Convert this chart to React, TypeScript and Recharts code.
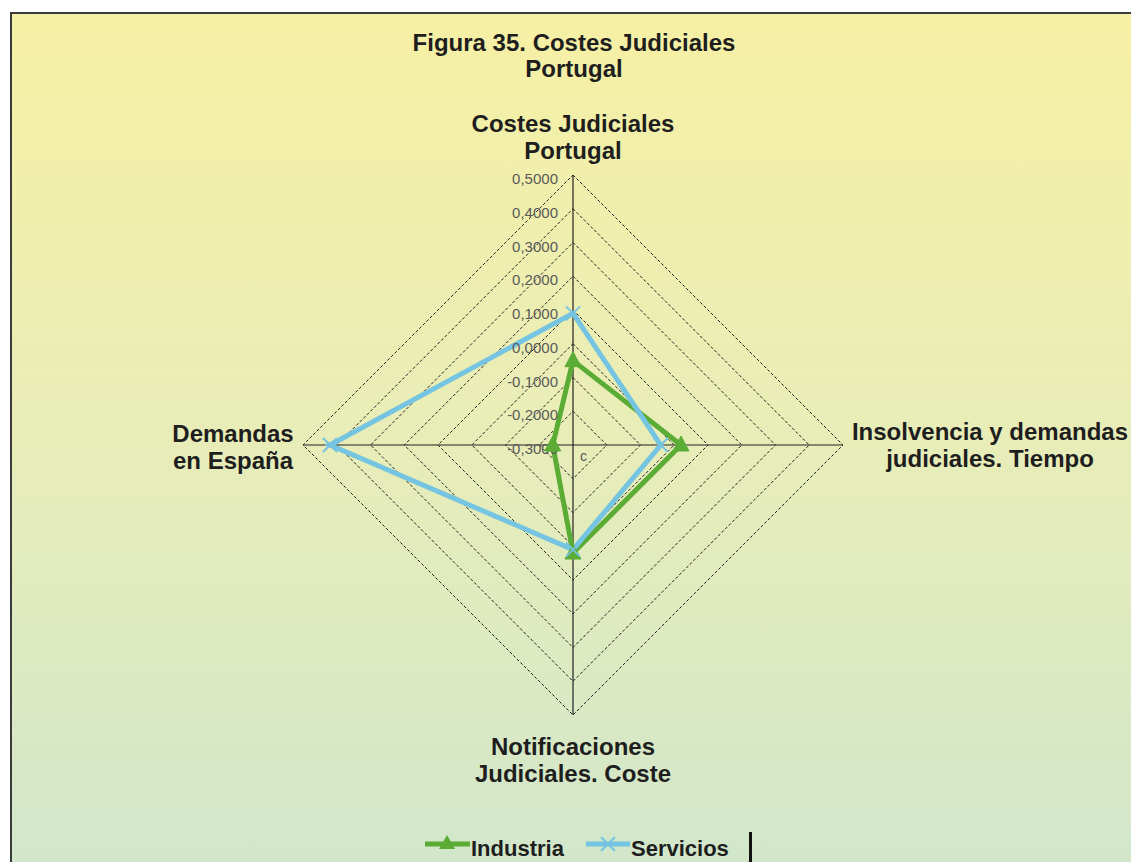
import React from "react";
import { RadarChart, Radar, PolarGrid, PolarAngleAxis, PolarRadiusAxis, Legend } from "recharts";

const categories = [
  "Costes Judiciales\nPortugal",
  "Insolvencia y demandas\njudiciales. Tiempo",
  "Notificaciones\nJudiciales. Coste",
  "Demandas\nen España",
];
const industria = [-0.05, 0.02, 0.02, -0.24];
const servicios = [0.09, -0.04, 0.01, 0.42];

const GREEN = "#5aac34";
const BLUE = "#74c4e2";
const FONT = "'Liberation Sans', Arial, sans-serif";

const data = categories.map((c, i) => ({ cat: c, industria: industria[i], servicios: servicios[i] }));

// label offsets from the tick point, per axis
const labelPos: Record<number, { dx: number; dy: number }> = {
  0: { dx: 0, dy: -35 },
  1: { dx: 139, dy: -5 },
  2: { dx: 0, dy: 32 },
  3: { dx: -62, dy: -3 },
};

function AngleTick(props: any) {
  const { x, y, payload, index } = props;
  const pos = labelPos[index] ?? { dx: 0, dy: 0 };
  const lines = String(payload.value).split("\n");
  return (
    <text x={x + pos.dx} y={y + pos.dy} textAnchor="middle" fontFamily={FONT} fontWeight="bold" fontSize={24} fill="#1e1e1e">
      {lines.map((l, i) => (
        <tspan key={i} x={x + pos.dx} dy={i === 0 ? 0 : 27}>
          {l}
        </tspan>
      ))}
    </text>
  );
}

function RadiusTick(props: any) {
  const { x, y, payload } = props;
  const label = Number(payload.value).toFixed(4).replace(".", ",").replace("-0,0000", "0,0000");
  return (
    <text x={x - 15} y={y + 9} textAnchor="end" fontFamily={FONT} fontSize={15} fill="#5a5a5a">
      {label}
    </text>
  );
}

function Triangle(props: any) {
  const { cx, cy } = props;
  if (cx == null || cy == null) return <g />;
  return <path d={`M${cx},${cy - 9} L${cx + 8},${cy + 6} L${cx - 8},${cy + 6} Z`} fill={GREEN} stroke={GREEN} strokeWidth={1} />;
}

function Cross(props: any) {
  const { cx, cy } = props;
  if (cx == null || cy == null) return <g />;
  return (
    <path d={`M${cx - 7},${cy - 7} L${cx + 7},${cy + 7} M${cx - 7},${cy + 7} L${cx + 7},${cy - 7}`} stroke={BLUE} strokeWidth={2} fill="none" />
  );
}

function LegendContent() {
  return (
    <svg width={340} height={30} style={{ overflow: "visible" }}>
      <line x1={5} y1={14} x2={50} y2={14} stroke={GREEN} strokeWidth={5} />
      <path d="M27,5 L35,19 L19,19 Z" fill={GREEN} />
      <text x={51} y={26} fontFamily={FONT} fontWeight="bold" fontSize={22} fill="#1e1e1e">Industria</text>
      <line x1={166} y1={14} x2={210} y2={14} stroke={BLUE} strokeWidth={5} />
      <path d="M181,7 L195,21 M181,21 L195,7" stroke={BLUE} strokeWidth={2} />
      <text x={211} y={26} fontFamily={FONT} fontWeight="bold" fontSize={22} fill="#1e1e1e">Servicios</text>
    </svg>
  );
}

export default function App() {
  return (
    <div style={{ position: "absolute", left: 0, top: 0, width: 1131, height: 862, background: "#fff", overflow: "hidden" }}>
      <div
        style={{
          position: "absolute",
          left: 10,
          top: 12,
          width: 1131,
          height: 862,
          borderLeft: "2px solid #3a3a3a",
          borderTop: "2px solid #3a3a3a",
          background: "linear-gradient(to bottom, #f6f0a4 0%, #e8edb8 50%, #d1e6cb 100%)",
        }}
      />
      <div
        style={{
          position: "absolute",
          left: 0,
          top: 30,
          width: 1148,
          textAlign: "center",
          fontFamily: FONT,
          fontWeight: "bold",
          fontSize: 24,
          lineHeight: "26px",
          color: "#1e1e1e",
        }}
      >
        Figura 35. Costes Judiciales
        <br />
        Portugal
      </div>
      <div style={{ position: "absolute", left: 580, top: 448, fontFamily: FONT, fontSize: 14, color: "#555" }}>c</div>
      <div style={{ position: "absolute", left: 749, top: 832, width: 3, height: 30, background: "#111" }} />
      <div style={{ position: "absolute", left: 0, top: 0 }}>
        <RadarChart width={1131} height={862} data={data} cx={573} cy={445} outerRadius={270} startAngle={90} endAngle={-270}>
          <PolarGrid gridType="polygon" radialLines={false} stroke="#222" strokeWidth={1} strokeDasharray="3 2" />
          <PolarGrid gridType="polygon" polarRadius={[0]} stroke="#222" strokeWidth={1.2} />
          <PolarAngleAxis dataKey="cat" tick={<AngleTick />} tickLine={false} axisLine={false} />
          <PolarRadiusAxis
            angle={90}
            type="number"
            domain={[-0.3, 0.5]}
            allowDecimals
            allowDataOverflow
            tickCount={9}
            tick={<RadiusTick />}
            tickLine={false}
            axisLine={false}
          />
          <Radar
            name="Industria"
            dataKey="industria"
            stroke={GREEN}
            strokeWidth={5}
            fill="none"
            fillOpacity={0}
            dot={<Triangle />}
            isAnimationActive={false}
          />
          <Radar
            name="Servicios"
            dataKey="servicios"
            stroke={BLUE}
            strokeWidth={5}
            fill="none"
            fillOpacity={0}
            dot={<Cross />}
            isAnimationActive={false}
          />
          <Legend content={<LegendContent />} wrapperStyle={{ position: "absolute", left: 420, top: 830, width: 340 }} />
        </RadarChart>
      </div>
    </div>
  );
}
